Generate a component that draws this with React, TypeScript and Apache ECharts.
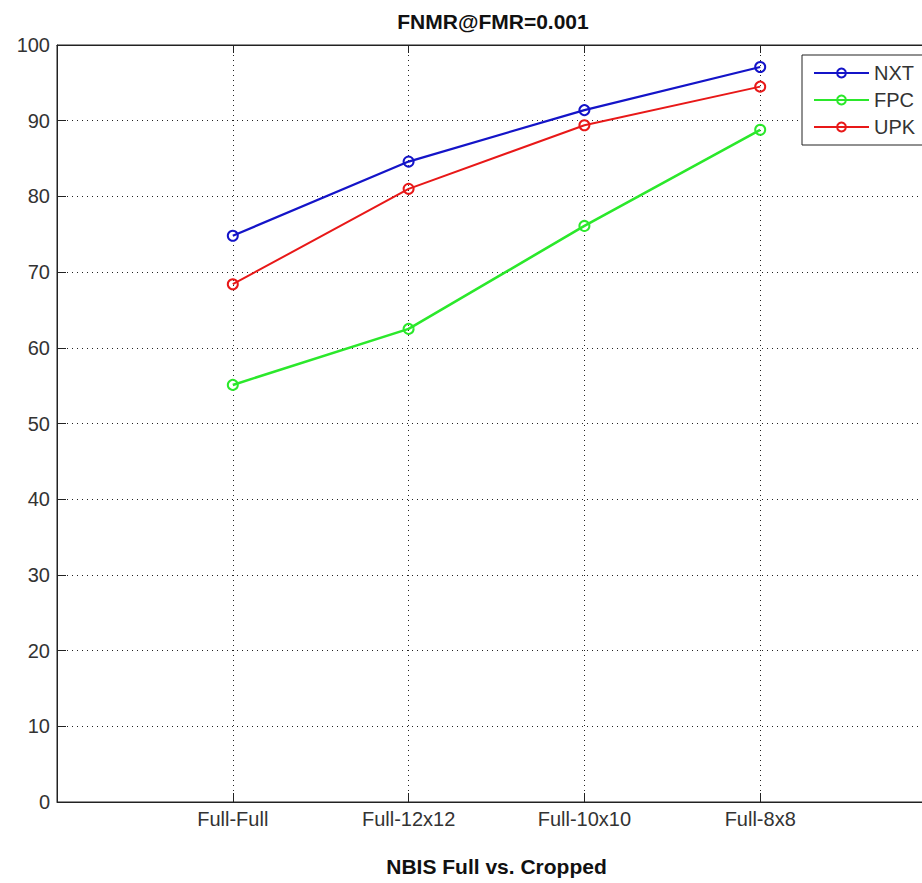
import React, { useEffect, useRef } from "react";
import * as echarts from "echarts";

const categories = ["Full-Full", "Full-12x12", "Full-10x10", "Full-8x8"];
const seriesNames = ["NXT", "FPC", "UPK"];
const nxtValues = [74.8, 84.6, 91.4, 97.1];
const fpcValues = [55.1, 62.5, 76.1, 88.8];
const upkValues = [68.4, 81.0, 89.4, 94.5];
const seriesColors = ["#1414c8", "#2be82b", "#e81818"];
const seriesWidths = [2.2, 2.6, 2];
const yMin = 0;
const yMax = 100;
const yStep = 10;
const titleText = "FNMR@FMR=0.001";
const xAxisTitle = "NBIS Full vs. Cropped";

const FONT = "'Liberation Sans', Arial, Helvetica, sans-serif";

export default function App() {
  const ref = useRef<HTMLDivElement>(null);

  useEffect(() => {
    if (!ref.current) return;
    const chart = echarts.init(ref.current, undefined, { renderer: "svg" });
    const allValues = [nxtValues, fpcValues, upkValues];
    const series = allValues.map((vals, i) => ({
      name: seriesNames[i],
      type: "line",
      xAxisIndex: 0,
      yAxisIndex: 0,
      data: vals.map((v, j) => [j + 1, v]),
      symbol: "circle",
      symbolSize: 10,
      showSymbol: true,
      lineStyle: { color: seriesColors[i], width: seriesWidths[i] },
      itemStyle: {
        color: "rgba(255,255,255,0)",
        borderColor: seriesColors[i],
        borderWidth: 2,
      },
      emphasis: { disabled: true },
      z: 3,
    }));

    chart.setOption({
      animation: false,
      backgroundColor: "#ffffff",
      textStyle: { fontFamily: FONT },
      title: {
        text: titleText,
        left: 493,
        top: 11,
        textAlign: "center",
        padding: 0,
        textStyle: {
          fontFamily: FONT,
          fontSize: 21,
          fontWeight: "bold",
          color: "#111",
        },
      },
      legend: {
        show: true,
        orient: "vertical",
        left: 802,
        top: 55,
        itemWidth: 55,
        itemHeight: 11,
        itemGap: 7,
        padding: [8, 20, 8, 11],
        borderColor: "#222",
        borderWidth: 1,
        backgroundColor: "#fff",
        selectedMode: false,
        textStyle: { fontFamily: FONT, fontSize: 20, color: "#333" },
        data: seriesNames,
      },
      grid: {
        left: 57,
        right: 24,
        top: 45,
        bottom: 81,
        show: true,
        borderColor: "#222",
        borderWidth: 1,
        backgroundColor: "transparent",
      },
      xAxis: [
        {
          type: "value",
          min: 0,
          max: categories.length + 1,
          interval: 1,
          position: "bottom",
          name: xAxisTitle,
          nameLocation: "middle",
          nameGap: 54,
          nameTextStyle: {
            fontFamily: FONT,
            fontSize: 21,
            fontWeight: "bold",
            color: "#111",
          },
          axisLine: { show: true, lineStyle: { color: "#222", width: 1 } },
          axisTick: { show: true, inside: true, length: 9, lineStyle: { color: "#222" } },
          axisLabel: {
            show: true,
            margin: 7,
            fontFamily: FONT,
            fontSize: 20,
            color: "#333",
            formatter: (v: number) => categories[v - 1] ?? "",
          },
          splitLine: {
            show: true,
            lineStyle: { color: "#222", width: 1, type: [1, 4] },
          },
        },
        {
          type: "value",
          min: 0,
          max: categories.length + 1,
          interval: 1,
          position: "top",
          axisLine: { show: true, lineStyle: { color: "#222", width: 1 } },
          axisTick: { show: true, inside: true, length: 8, lineStyle: { color: "#222" } },
          axisLabel: { show: false },
          splitLine: { show: false },
        },
      ],
      yAxis: [
        {
          type: "value",
          min: yMin,
          max: yMax,
          interval: yStep,
          position: "left",
          axisLine: { show: true, lineStyle: { color: "#222", width: 1 } },
          axisTick: { show: true, inside: true, length: 9, lineStyle: { color: "#222" } },
          axisLabel: {
            show: true,
            margin: 7,
            fontFamily: FONT,
            fontSize: 20,
            color: "#333",
          },
          splitLine: {
            show: true,
            lineStyle: { color: "#222", width: 1, type: [1, 4] },
          },
        },
      ],
      series,
    });

    return () => {
      chart.dispose();
    };
  }, []);

  return (
    <div
      style={{
        position: "fixed",
        left: 0,
        top: 0,
        width: 922,
        height: 883,
        overflow: "hidden",
        background: "#fff",
      }}
    >
      <div ref={ref} style={{ width: 960, height: 883 }} />
    </div>
  );
}
